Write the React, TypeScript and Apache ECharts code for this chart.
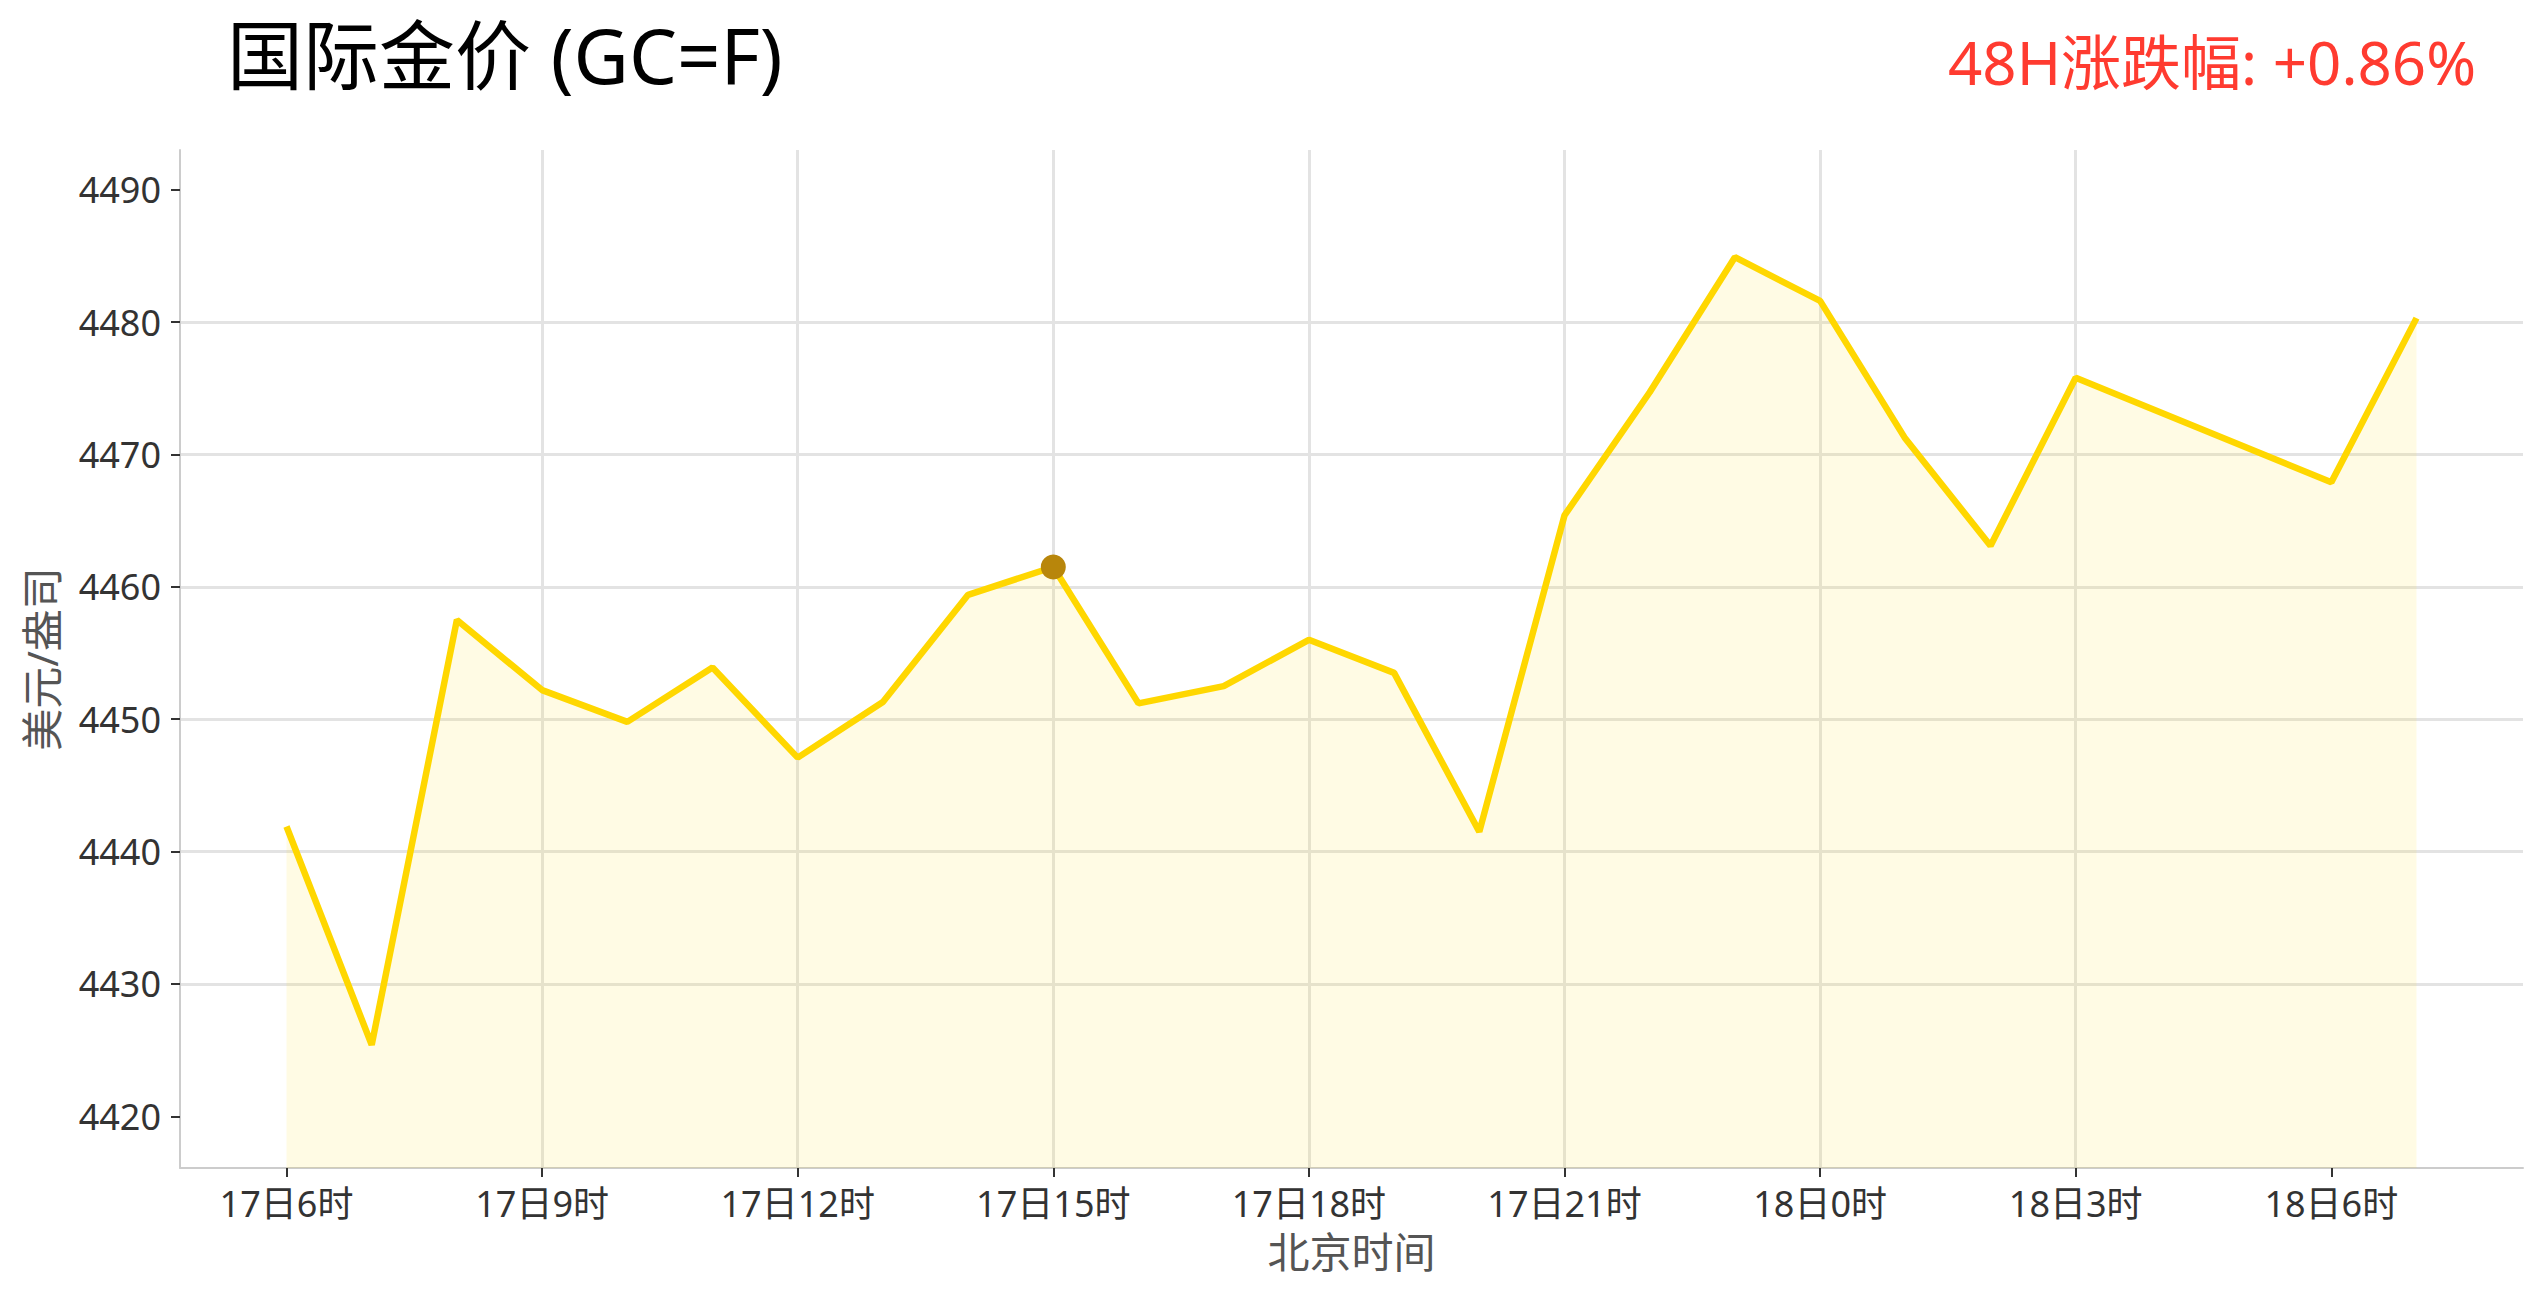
import React, { useEffect, useRef } from "react";
import * as echarts from "echarts";

// Hours since 17日0时 (北京时间)
const hours = [6, 7, 8, 9, 10, 11, 12, 13, 14, 15, 16, 17, 18, 19, 20, 21, 22, 23, 24, 25, 26, 27, 30, 31];
const prices = [
  4441.9, 4425.4, 4457.5, 4452.2, 4449.8, 4453.9, 4447.1, 4451.3, 4459.4, 4461.5,
  4451.2, 4452.5, 4456.0, 4453.5, 4441.5, 4465.4, 4474.7, 4484.9, 4481.6, 4471.2,
  4463.1, 4475.8, 4467.9, 4480.3,
];
const markerIndex = 9;

const xTickValues = [6, 9, 12, 15, 18, 21, 24, 27, 30];
const xTickLabels = ["17日6时", "17日9时", "17日12时", "17日15时", "17日18时", "17日21时", "18日0时", "18日3时", "18日6时"];
const yTickValues = [4420, 4430, 4440, 4450, 4460, 4470, 4480, 4490];

const titleText = "国际金价 (GC=F)";
const changeText = "48H涨跌幅: +0.86%";
const xName = "北京时间";
const yName = "美元/盎司";

const FF = "'Noto Sans', 'Noto Sans CJK SC', sans-serif";

export default function App() {
  const ref = useRef<HTMLDivElement>(null);
  useEffect(() => {
    if (!ref.current) return;
    const chart = echarts.init(ref.current, undefined, { renderer: "svg" });
    const axisCommon = {
      type: "value" as const,
      axisLine: { show: true, onZero: false, lineStyle: { color: "#cccccc", width: 2 } },
      splitLine: { show: true, showMinLine: false, showMaxLine: false, lineStyle: { color: "#e3e3e3", width: 3 } },
      nameLocation: "middle" as const,
      nameTextStyle: { fontSize: 42, color: "#555555", fontFamily: FF },
    };
    chart.setOption({
      animation: false,
      backgroundColor: "#ffffff",
      textStyle: { fontFamily: FF },
      grid: { left: 180, right: 18, top: 150, bottom: 134 },
      xAxis: {
        ...axisCommon,
        min: 4.75,
        max: 32.25,
        name: xName,
        nameGap: 62,
        axisTick: { show: true, length: 9, customValues: xTickValues, lineStyle: { color: "#333333", width: 2 } },
        axisLabel: {
          customValues: xTickValues,
          fontSize: 36,
          color: "#333333",
          margin: 17,
          formatter: (v: number) => {
            const i = xTickValues.indexOf(v);
            return i >= 0 ? xTickLabels[i] : "";
          },
        },
      },
      yAxis: {
        ...axisCommon,
        min: 4416.1,
        max: 4493,
        name: yName,
        nameGap: 118,
        axisTick: { show: true, length: 9, customValues: yTickValues, lineStyle: { color: "#333333", width: 2 } },
        axisLabel: {
          customValues: yTickValues,
          fontSize: 36,
          color: "#333333",
          margin: 19,
          formatter: (v: number) => String(Math.round(v)),
        },
      },
      graphic: [
        {
          type: "text",
          x: 227,
          y: 54,
          style: { text: titleText, fontSize: 76, fontFamily: FF, fill: "#000000", align: "left", verticalAlign: "middle" },
        },
        {
          type: "text",
          x: 2476,
          y: 62,
          style: { text: changeText, fontSize: 60, fontFamily: FF, fill: "#ff3b30", align: "right", verticalAlign: "middle" },
        },
      ],
      series: [
        {
          type: "line",
          data: hours.map((h, i) => [h, prices[i]]),
          symbol: "none",
          lineStyle: { color: "#FFD700", width: 6.5 },
          areaStyle: { color: "rgba(255,215,0,0.15)", origin: "start" },
          z: 2,
        },
        {
          type: "scatter",
          data: [[hours[markerIndex], prices[markerIndex]]],
          symbolSize: 25,
          itemStyle: { color: "#B8860B", opacity: 1 },
          z: 3,
        },
      ],
    });
    return () => chart.dispose();
  }, []);
  return (
    <div
      ref={ref}
      style={{ position: "fixed", left: 0, top: 0, width: 2541, height: 1302, background: "#fff" }}
    />
  );
}
